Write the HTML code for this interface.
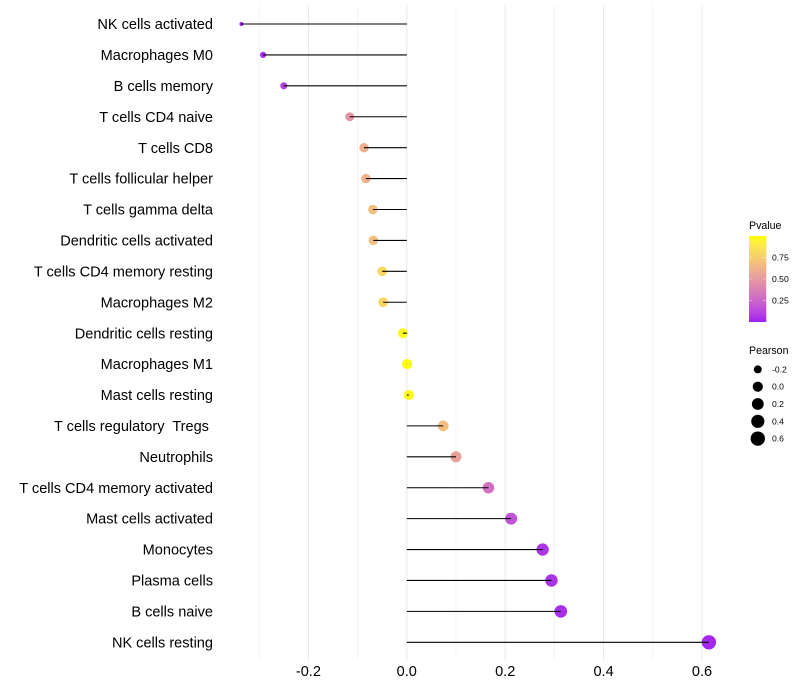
<!DOCTYPE html>
<html>
<head>
<meta charset="utf-8">
<style>
html,body{margin:0;padding:0;background:#fff;}
svg{display:block;font-family:"Liberation Sans",sans-serif;}
</style>
</head>
<body>
<svg id="chart" width="800" height="700" viewBox="0 0 800 700" xmlns="http://www.w3.org/2000/svg"></svg>
<script>
const categories = ["NK cells activated","Macrophages M0","B cells memory","T cells CD4 naive","T cells CD8","T cells follicular helper","T cells gamma delta","Dendritic cells activated","T cells CD4 memory resting","Macrophages M2","Dendritic cells resting","Macrophages M1","Mast cells resting","T cells regulatory  Tregs ","Neutrophils","T cells CD4 memory activated","Mast cells activated","Monocytes","Plasma cells","B cells naive","NK cells resting"];
const pearson = [-0.336,-0.292,-0.25,-0.116,-0.087,-0.083,-0.069,-0.068,-0.05,-0.048,-0.008,0.0005,0.004,0.074,0.1,0.166,0.212,0.276,0.294,0.313,0.614];
const pvalue = [0.0,0.04,0.1,0.48,0.6,0.62,0.68,0.68,0.8,0.8,0.97,1.0,0.98,0.68,0.53,0.3,0.17,0.06,0.05,0.04,0.02];
const xTicks = [-0.2,0.0,0.2,0.4,0.6];
const xMinorTicks = [-0.3,-0.1,0.1,0.3,0.5];
const colorTicks = [0.25,0.5,0.75];
const sizeTicks = [-0.2,0.0,0.2,0.4,0.6];

const svg = document.getElementById('chart');
const NS = 'http://www.w3.org/2000/svg';
function add(tag, attrs, parent){
  const el = document.createElementNS(NS, tag);
  for (const k in attrs) el.setAttribute(k, attrs[k]);
  (parent || svg).appendChild(el);
  return el;
}
function xScale(v){ return 406.8 + v * 492; }
function yScale(i){ return 24 + i * 30.915; }
function rScale(v){
  const t = Math.max(0, (v + 0.336) / 0.95);
  return 2 + 5.2 * Math.sqrt(t);
}
function colorY(p){ return 322 - p * 86; }
function toLab(c){
  const f = c.map(u => { u /= 255; return u > 0.04045 ? Math.pow((u + 0.055) / 1.055, 2.4) : u / 12.92; });
  const X = (0.4124*f[0]+0.3576*f[1]+0.1805*f[2])/0.95047, Y = 0.2126*f[0]+0.7152*f[1]+0.0722*f[2], Z = (0.0193*f[0]+0.1192*f[1]+0.9505*f[2])/1.08883;
  const g = t => t > 0.008856 ? Math.cbrt(t) : 7.787*t + 16/116;
  return [116*g(Y)-16, 500*(g(X)-g(Y)), 200*(g(Y)-g(Z))];
}
function fromLab(l){
  const fy = (l[0]+16)/116, fx = fy + l[1]/500, fz = fy - l[2]/200;
  const h = t => t*t*t > 0.008856 ? t*t*t : (t-16/116)/7.787;
  const X = h(fx)*0.95047, Y = h(fy), Z = h(fz)*1.08883;
  const r = [3.2406*X-1.5372*Y-0.4986*Z, -0.9689*X+1.8758*Y+0.0415*Z, 0.0557*X-0.204*Y+1.057*Z];
  return 'rgb(' + r.map(u => { u = Math.max(0, Math.min(1, u)); u = u > 0.0031308 ? 1.055*Math.pow(u,1/2.4)-0.055 : 12.92*u; return Math.round(u*255); }).join(',') + ')';
}
const labLow = toLab([160,32,240]);
const labHigh = toLab([255,255,0]);
function colorScale(p){ return fromLab(labLow.map((a,i) => a + (labHigh[i]-a)*p)); }

/* grid */
xMinorTicks.forEach(v => {
  const g = add('line',{x1:xScale(v),x2:xScale(v),y1:5,y2:660,stroke:'#ececec','stroke-width':0.6});
  
  
});
xTicks.forEach(v => {
  const g = add('line',{x1:xScale(v),x2:xScale(v),y1:5,y2:660,stroke:'#e8e8e8','stroke-width':1});
  
  
});

/* marks */
categories.forEach((c,i) => {
  const pt = add('circle',{cx:xScale(pearson[i]),cy:yScale(i),r:rScale(pearson[i]),fill:colorScale(pvalue[i])});
  
  
});
categories.forEach((c,i) => {
  const ln = add('line',{x1:xScale(0),x2:xScale(pearson[i]),y1:yScale(i),y2:yScale(i),stroke:'#000','stroke-width':1.07});
  
  
});

/* y labels */
categories.forEach((c,i) => {
  const t = add('text',{x:213,y:yScale(i)+5.1,'text-anchor':'end','font-size':14.55,fill:'#000'});
  t.setAttribute('xml:space','preserve');
  t.style.whiteSpace = 'pre';
  t.textContent = c;
  
  
});

/* x labels */
xTicks.forEach(v => {
  const t = add('text',{x:xScale(v),y:676,'text-anchor':'middle','font-size':14.55,fill:'#000'});
  t.textContent = v.toFixed(1);
  
  
});

/* colour legend */
const pTitle = add('text',{x:749,y:229,'font-size':10.6,fill:'#000'});
pTitle.textContent = 'Pvalue';



const defs = add('defs',{});
const grad = add('linearGradient',{id:'pgrad',x1:0,y1:1,x2:0,y2:0},defs);
for (let s = 0; s <= 20; s++) {
  add('stop',{offset:s/20,'stop-color':colorScale(s/20)},grad);
}
const bar = add('rect',{x:749,y:236,width:17.3,height:86,fill:'url(#pgrad)'});



colorTicks.forEach(v => {
  const y = colorY(v);
  const a = add('line',{x1:749,x2:752.5,y1:y,y2:y,stroke:'#fff','stroke-opacity':0.6,'stroke-width':0.6});
  
  
  const b = add('line',{x1:762.8,x2:766.3,y1:y,y2:y,stroke:'#fff','stroke-opacity':0.6,'stroke-width':0.6});
  
  
  const t = add('text',{x:772,y:y+3,'font-size':8.6,fill:'#000'});
  t.textContent = v.toFixed(2);
  
  
});

/* size legend */
const sTitle = add('text',{x:749,y:354,'font-size':10.6,fill:'#000'});
sTitle.textContent = 'Pearson';



sizeTicks.forEach((v,i) => {
  const y = 369.4 + i * 17.3;
  const c = add('circle',{cx:757.8,cy:y,r:rScale(v),fill:'#000'});
  
  
  const t = add('text',{x:772,y:y+3,'font-size':8.6,fill:'#000'});
  t.textContent = v.toFixed(1);
  
  
});
</script>
</body>
</html>
